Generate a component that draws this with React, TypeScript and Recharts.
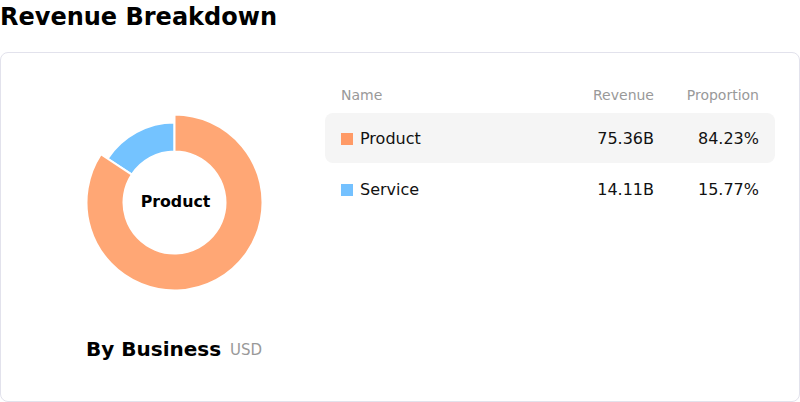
import React from 'react';
import { PieChart, Pie, Cell, Label } from 'recharts';

const categories = ['Product', 'Service'];
const revenueValues = [75.36, 14.11];
const revenueLabels = ['75.36B', '14.11B'];
const proportionLabels = ['84.23%', '15.77%'];
const sliceColors = ['#FFA775', '#74C3FF'];
const legendColors = ['#FF9A66', '#74C1FF'];
const headers = ['Name', 'Revenue', 'Proportion'];

const pieData = categories.map((name, i) => ({ name, value: revenueValues[i] }));

const FONT = '"DejaVu Sans", sans-serif';

// place text so that its baseline lands at `baseline` (lineHeight = fontSize)
const topFor = (baseline: number, size: number) => baseline - 0.846 * size;

const txt = (
  baseline: number,
  size: number,
  extra: React.CSSProperties
): React.CSSProperties => ({
  position: 'absolute',
  top: topFor(baseline, size),
  fontSize: size,
  lineHeight: `${size}px`,
  whiteSpace: 'nowrap',
  fontFamily: FONT,
  ...extra,
});

export default function App() {
  const rowBaselines = [145, 196];
  return (
    <div
      style={{
        position: 'absolute',
        left: 0,
        top: 0,
        width: 800,
        height: 402,
        background: '#fff',
        fontFamily: FONT,
        overflow: 'hidden',
      }}
    >
      <div style={txt(25, 24, { left: 0, fontWeight: 'bold', color: '#000' })}>
        Revenue Breakdown
      </div>

      <div
        style={{
          position: 'absolute',
          left: 0,
          top: 52,
          width: 800,
          height: 350,
          boxSizing: 'border-box',
          border: '1px solid #e2e2ec',
          borderRadius: 8,
        }}
      />

      <div style={{ position: 'absolute', left: 0, top: 52 }}>
        <PieChart width={350} height={300} margin={{ top: 0, right: 0, bottom: 0, left: 0 }}>
          <Pie
            data={pieData}
            dataKey="value"
            nameKey="name"
            cx={174.5}
            cy={150.5}
            innerRadius={51}
            outerRadius={80}
            startAngle={90}
            endAngle={-270}
            stroke="#fff"
            strokeWidth={2}
            isAnimationActive={false}
          >
            {pieData.map((d, i) => (
              <Cell key={d.name} fill={i === 1 ? sliceColors[1] : 'transparent'} stroke={i === 1 ? '#fff' : 'none'} />
            ))}
          </Pie>
          <Pie
            data={pieData}
            dataKey="value"
            nameKey="name"
            cx={174.5}
            cy={150.5}
            innerRadius={51}
            outerRadius={88}
            startAngle={90}
            endAngle={-270}
            stroke="#fff"
            strokeWidth={2}
            isAnimationActive={false}
          >
            {pieData.map((d, i) => (
              <Cell key={d.name} fill={i === 0 ? sliceColors[0] : 'transparent'} stroke={i === 0 ? '#fff' : 'none'} />
            ))}
            <Label
              position="center"
              content={(props: any) => {
                const vb = props.viewBox || {};
                return (
                  <text
                    x={(vb.cx ?? 174.5) + 1}
                    y={(vb.cy ?? 150.5) + 4}
                    textAnchor="middle"
                    fontFamily={FONT}
                    fontWeight="bold"
                    fontSize={15.8}
                    fill="#000"
                  >
                    {categories[0]}
                  </text>
                );
              }}
            />
          </Pie>
        </PieChart>
      </div>

      <div style={txt(356, 20, { left: 86, fontWeight: 'bold', color: '#000' })}>By Business</div>
      <div style={txt(356, 15, { left: 230, color: '#999' })}>USD</div>

      {/* table header */}
      <div style={txt(100, 14, { left: 341, color: '#999' })}>{headers[0]}</div>
      <div style={txt(100, 14, { right: 800 - 654, color: '#999' })}>{headers[1]}</div>
      <div style={txt(100, 14, { right: 800 - 759, color: '#999' })}>{headers[2]}</div>

      {/* highlighted row */}
      <div
        style={{
          position: 'absolute',
          left: 325,
          top: 113,
          width: 450,
          height: 50,
          background: '#f5f5f5',
          borderRadius: 8,
        }}
      />

      {categories.map((c, i) => (
        <React.Fragment key={c}>
          <div
            style={{
              position: 'absolute',
              left: 341,
              top: rowBaselines[i] - 12,
              width: 12,
              height: 12,
              background: legendColors[i],
            }}
          />
          <div style={txt(rowBaselines[i], 16, { left: 360, color: '#111' })}>{c}</div>
          <div style={txt(rowBaselines[i], 16, { right: 800 - 654, color: '#111' })}>{revenueLabels[i]}</div>
          <div style={txt(rowBaselines[i], 16, { right: 800 - 759, color: '#111' })}>{proportionLabels[i]}</div>
        </React.Fragment>
      ))}
    </div>
  );
}
